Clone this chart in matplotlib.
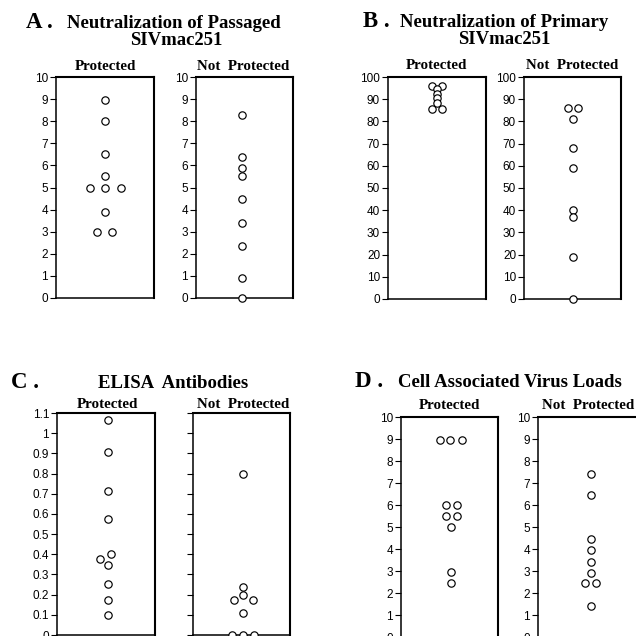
import matplotlib
matplotlib.use("Agg")
import matplotlib.pyplot as plt
import numpy as np

W = H = 636

# ---- data ----
a_prot = [8.95, 8.0, 6.5, 5.5, 5.0, 5.0, 5.0, 3.9, 3.0, 3.0]
a_notp = [8.3, 6.4, 5.9, 5.5, 4.5, 3.4, 2.35, 0.9, 0.0]
b_prot = [96, 96, 94.5, 92.5, 90.5, 88.5, 85.5, 85.5]
b_notp = [86, 86, 81, 68, 59, 40, 37, 19, 0]
c_prot = [1.065, 0.905, 0.715, 0.575, 0.375, 0.40, 0.345, 0.255, 0.175, 0.10]
c_notp = [0.80, 0.24, 0.20, 0.175, 0.175, 0.11, 0.0, 0.0, 0.0]
d_prot = [8.95, 8.95, 8.95, 6.0, 6.0, 5.5, 5.5, 5.0, 2.95, 2.45]
d_notp = [7.4, 6.45, 4.45, 3.95, 3.4, 2.9, 2.45, 2.45, 1.4]

# horizontal spread of overlapping circles (fraction of box width)
a_prot_dx = [0.5, 0.5, 0.5, 0.5, 0.35, 0.5, 0.66, 0.5, 0.42, 0.57]
a_notp_dx = [0.476] * len(a_notp)
b_prot_dx = [0.452, 0.548, 0.5, 0.5, 0.5, 0.5, 0.452, 0.548]
b_notp_dx = [0.45, 0.557, 0.5, 0.5, 0.5, 0.5, 0.5, 0.5, 0.5]
c_prot_dx = [0.52, 0.52, 0.52, 0.52, 0.435, 0.55, 0.52, 0.52, 0.52, 0.52]
c_notp_dx = [0.52, 0.52, 0.52, 0.42, 0.614, 0.52, 0.40, 0.52, 0.628]
d_prot_dx = [0.403, 0.51, 0.624, 0.466, 0.579, 0.466, 0.579, 0.517, 0.517, 0.517]
d_notp_dx = [0.524, 0.524, 0.524, 0.524, 0.524, 0.524, 0.462, 0.572, 0.524]

SERIF = "Liberation Serif"
SANS = "Liberation Sans"

fig = plt.figure(figsize=(W / 100, H / 100), dpi=100)
fig.patch.set_facecolor("white")


def px_axes(x0, yt, x1, yb):
    return fig.add_axes([x0 / W, 1 - yb / H, (x1 - x0) / W, (yb - yt) / H])


def dot_panel(box, vals, dx, ymax, ticks, labels=None):
    ax = px_axes(*box)
    ax.plot(dx, vals, "o", ms=5.3, mfc="white", mec="black", mew=0.85,
            clip_on=False, zorder=3)
    ax.set_xlim(0, 1)
    ax.set_ylim(0, ymax)
    ax.set_xticks([])
    ax.set_yticks(ticks)
    if labels is None:
        ax.set_yticklabels([])
    else:
        ax.set_yticklabels(labels, fontfamily=SANS, fontsize=8.5)
    ax.tick_params(axis="y", length=4.5, width=0.8, pad=1.2)
    for side in ax.spines:
        ax.spines[side].set_linewidth(1.1)
    ax.spines["top"].set_linewidth(1.5)
    ax.spines["right"].set_linewidth(1.5)
    return ax


def ftext(x, y, s, size, ha="left", **kw):
    fig.text(x / W, 1 - y / H, s, fontsize=size, ha=ha, va="baseline",
             fontfamily=SERIF, fontweight="bold", **kw)


t10 = np.arange(0, 11)
lab10 = [str(v) for v in t10]
t100 = np.arange(0, 101, 10)
lab100 = [str(v) for v in t100]
tc = np.round(np.arange(0, 1.11, 0.1), 1)
labc = ["0" if v == 0 else ("1" if v == 1 else f"{v:g}") for v in tc]

TS = 13.5   # title size
SS = 10.8   # subtitle size

# A
dot_panel((56, 77, 154, 298), a_prot, a_prot_dx, 10, t10, lab10)
dot_panel((196, 77, 293, 298), a_notp, a_notp_dx, 10, t10, lab10)
ftext(26, 28, "A .", 16.5)
ftext(174, 28, "Neutralization of Passaged", TS, ha="center")
ftext(176, 45, "SIVmac251", TS, ha="center")
ftext(105, 70, "Protected", SS, ha="center")
ftext(243, 70, "Not  Protected", SS, ha="center")

# B
dot_panel((388, 77, 486, 299), b_prot, b_prot_dx, 100, t100, lab100)
dot_panel((524, 77, 621, 299), b_notp, b_notp_dx, 100, t100, lab100)
ftext(363, 27, "B .", 16.5)
ftext(504, 27, "Neutralization of Primary", TS, ha="center")
ftext(504, 44, "SIVmac251", TS, ha="center")
ftext(436, 69, "Protected", SS, ha="center")
ftext(572, 69, "Not  Protected", SS, ha="center")

# C
dot_panel((57, 413, 155, 635), c_prot, c_prot_dx, 1.1, tc, labc)
dot_panel((193, 413, 290, 635), c_notp, c_notp_dx, 1.1, tc, None)
ftext(11, 388, "C .", 16.5)
ftext(173, 388, "ELISA  Antibodies", TS, ha="center")
ftext(107, 408, "Protected", SS, ha="center")
ftext(243, 408, "Not  Protected", SS, ha="center")

# D
dot_panel((401, 417, 498, 637), d_prot, d_prot_dx, 10, t10, lab10)
dot_panel((538, 417, 640, 637), d_notp, d_notp_dx, 10, t10, lab10)
ftext(355, 387, "D .", 16.5)
ftext(398, 387, "Cell Associated Virus Loads", TS)
ftext(449, 409, "Protected", SS, ha="center")
ftext(542, 409, "Not  Protected", SS)

fig.savefig("out.png", dpi=100, facecolor="white")
